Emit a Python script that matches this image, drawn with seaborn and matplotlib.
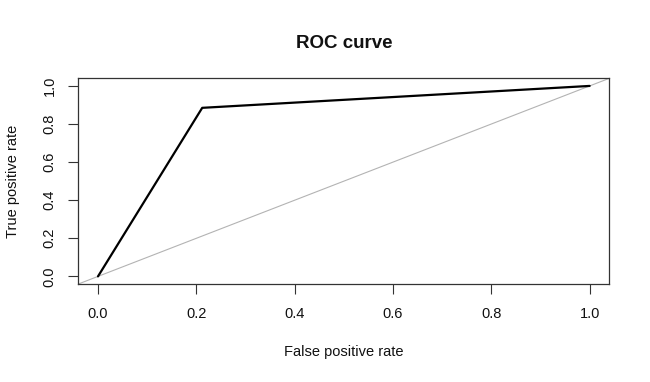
import matplotlib
matplotlib.use("Agg")
import matplotlib.pyplot as plt
import seaborn as sns
import pandas as pd

# Data
fpr = [0.0, 0.212, 1.0]
tpr = [0.0, 0.885, 1.0]
x_ticks = [0.0, 0.2, 0.4, 0.6, 0.8, 1.0]
y_ticks = [0.0, 0.2, 0.4, 0.6, 0.8, 1.0]
tick_labels = ["0.0", "0.2", "0.4", "0.6", "0.8", "1.0"]

sns.set_style("white")
plt.rcParams['font.family'] = ['Liberation Sans', 'DejaVu Sans']

df = pd.DataFrame({"fpr": fpr, "tpr": tpr})

fig = plt.figure(figsize=(6.5, 3.82), dpi=100)
ax = fig.add_axes([0.1205, 0.2565, 0.8169, 0.5385])

ax.axline((0, 0), slope=1, color="#b3b3b3", lw=0.8, zorder=1)
sns.lineplot(data=df, x="fpr", y="tpr", ax=ax, color="black", lw=1.6,
             sort=False, estimator=None, zorder=2)

ax.set_xlim(-0.04, 1.04)
ax.set_ylim(-0.04, 1.04)
ax.set_xticks(x_ticks)
ax.set_xticklabels(tick_labels)
ax.set_yticks(y_ticks)
ax.set_yticklabels(tick_labels, rotation=90, va="center")

for s in ax.spines.values():
    s.set_color("#333333")
    s.set_linewidth(0.9)
    s.set_visible(True)

ax.tick_params(axis="both", direction="out", length=7, width=0.8,
               color="#333333", labelsize=10.5, labelcolor="#111111",
               bottom=True, left=True)
ax.tick_params(axis="x", pad=9.5)
ax.tick_params(axis="y", pad=8.6)

ax.set_xlabel("False positive rate", fontsize=10.5, labelpad=17.5, color="#111111")
ax.set_ylabel("True positive rate", fontsize=10.5, labelpad=16, color="#111111")
ax.set_title("ROC curve", fontsize=13.5, fontweight="bold", pad=21.5, color="#111111")

fig.savefig("out.png", dpi=100, facecolor="white")
